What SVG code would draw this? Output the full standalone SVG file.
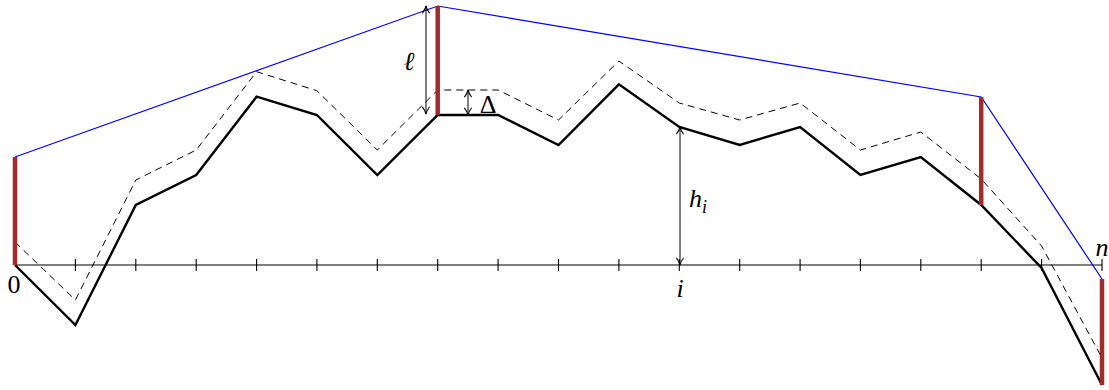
<svg xmlns="http://www.w3.org/2000/svg" width="1109" height="390" viewBox="0 0 1109 390">
<style>
.axis{stroke:#000;stroke-width:1.1;fill:none}
.tick{stroke:#000;stroke-width:1.1}
.curve{stroke:#000;stroke-width:2.4;fill:none;stroke-linejoin:miter}
.dash{stroke:#000;stroke-width:1;fill:none;stroke-dasharray:7,5}
.hull{stroke:#0000ff;stroke-width:1.2;fill:none}
.bar{stroke:#a52a2a;stroke-width:4.5}
.dim{stroke:#000;stroke-width:1;fill:none;marker-start:url(#ah);marker-end:url(#ah)}
text{font-family:"Liberation Serif","DejaVu Serif",serif;font-size:26px;fill:#000}
.it{font-style:italic}
</style>
<defs>
<marker id="ah" viewBox="0 0 10 10" refX="9" refY="5" markerWidth="9" markerHeight="9" markerUnits="userSpaceOnUse" orient="auto-start-reverse">
<path d="M1,1 Q5,4 9,5 Q5,6 1,9" fill="none" stroke="#000" stroke-width="1.2"/>
</marker>
</defs>
<g id="axis">
<line class="axis" x1="15" y1="265" x2="1102" y2="265"/>
<g class="tick">
<line x1="75.4" y1="259" x2="75.4" y2="271"/>
<line x1="135.8" y1="259" x2="135.8" y2="271"/>
<line x1="196.2" y1="259" x2="196.2" y2="271"/>
<line x1="256.6" y1="259" x2="256.6" y2="271"/>
<line x1="316.9" y1="259" x2="316.9" y2="271"/>
<line x1="377.3" y1="259" x2="377.3" y2="271"/>
<line x1="437.7" y1="259" x2="437.7" y2="271"/>
<line x1="498.1" y1="259" x2="498.1" y2="271"/>
<line x1="558.5" y1="259" x2="558.5" y2="271"/>
<line x1="618.9" y1="259" x2="618.9" y2="271"/>
<line x1="679.3" y1="259" x2="679.3" y2="271"/>
<line x1="739.7" y1="259" x2="739.7" y2="271"/>
<line x1="800.1" y1="259" x2="800.1" y2="271"/>
<line x1="860.4" y1="259" x2="860.4" y2="271"/>
<line x1="920.8" y1="259" x2="920.8" y2="271"/>
<line x1="981.2" y1="259" x2="981.2" y2="271"/>
<line x1="1041.6" y1="259" x2="1041.6" y2="271"/>
<line x1="1102" y1="259" x2="1102" y2="271"/>
</g>
<text x="14" y="293" text-anchor="middle">0</text>
<text class="it" x="680" y="297" text-anchor="middle">i</text>
<text class="it" x="1102" y="256" text-anchor="middle">n</text>
</g>
<g id="dashed-curve">
<polyline class="dash" points="15,242 75.4,300 135.8,180 196.2,150 256.6,71.7 316.9,90.7 377.3,150 437.7,90 498.1,90 558.5,120 618.9,61 679.3,103 739.7,120 800.1,103 860.4,150 920.8,132 981.2,179 1041.6,246 1102,358"/>
</g>
<g id="solid-curve">
<polyline class="curve" points="15,265 75.4,325 135.8,205 196.2,175 256.6,96.7 316.9,115 377.3,175 437.7,115 498.1,115 558.5,145 618.9,84.3 679.3,127 739.7,145 800.1,127 860.4,175 920.8,157 981.2,205 1041.6,268 1102,385"/>
</g>
<g id="hull">
<polyline class="hull" points="15,157 437.7,6 981.2,97 1102,279"/>
</g>
<g id="bars">
<line class="bar" x1="15" y1="157" x2="15" y2="265"/>
<line class="bar" x1="437.7" y1="6" x2="437.7" y2="115"/>
<line class="bar" x1="981.2" y1="97" x2="981.2" y2="205"/>
<line class="bar" x1="1102" y1="279" x2="1102" y2="385"/>
</g>
<g id="dimensions">
<line class="dim" x1="426" y1="6" x2="426" y2="114"/>
<text class="it" x="409" y="70" text-anchor="middle">ℓ</text>
<line class="dim" x1="468" y1="90" x2="468" y2="115"/>
<text x="488" y="113" text-anchor="middle">Δ</text>
<line class="dim" x1="680" y1="127" x2="680" y2="265"/>
<text class="it" x="689" y="207">h<tspan font-size="18" dy="6">i</tspan></text>
</g>
</svg>
